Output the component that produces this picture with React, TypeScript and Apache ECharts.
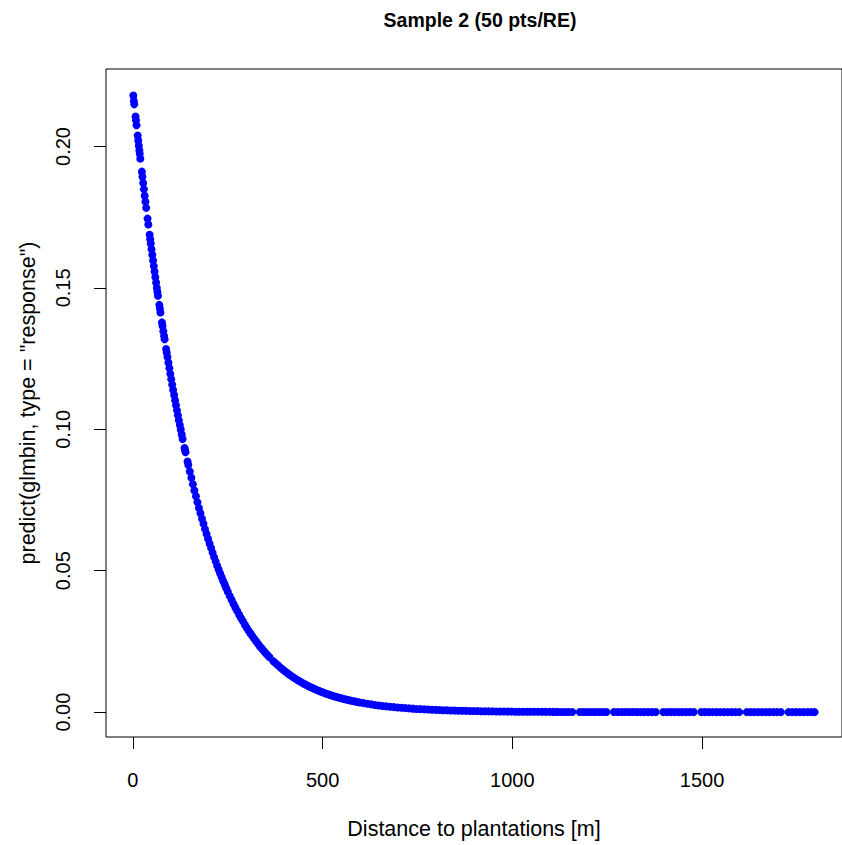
import React, { useEffect, useRef } from "react";
import * as echarts from "echarts";

// Distance to plantations [m] and predicted response
const distTop = [1, 2.5, 3.5, 7, 8, 9.5, 12.5, 14, 15.5, 17, 18, 19.5, 23.5, 25, 27, 29, 31, 33, 35, 38.5, 40.5, 44, 45.5, 47, 49, 51, 53, 55, 57, 59, 61, 63, 64.5, 66, 69.5, 71, 72.5, 76.5, 78, 80, 82, 83.5, 87.5, 89, 91, 93.5, 96, 98.5, 101, 103.5, 106, 108.5, 111, 113.5, 116, 118.5, 121, 123.5, 126, 128.5, 131, 136, 137, 138.5];
const probTop = [0.2180, 0.2161, 0.2149, 0.2106, 0.2093, 0.2075, 0.2039, 0.2021, 0.2003, 0.1986, 0.1974, 0.1957, 0.1911, 0.1893, 0.1871, 0.1849, 0.1826, 0.1805, 0.1783, 0.1745, 0.1724, 0.1688, 0.1672, 0.1657, 0.1637, 0.1617, 0.1597, 0.1577, 0.1558, 0.1538, 0.1519, 0.1500, 0.1486, 0.1472, 0.1440, 0.1427, 0.1413, 0.1378, 0.1365, 0.1347, 0.1330, 0.1318, 0.1284, 0.1272, 0.1256, 0.1236, 0.1216, 0.1196, 0.1177, 0.1158, 0.1139, 0.1121, 0.1103, 0.1085, 0.1067, 0.1050, 0.1032, 0.1015, 0.0999, 0.0982, 0.0966, 0.0934, 0.0928, 0.0919];

const distMid1 = [144, 146, 150, 154, 158, 162, 166, 170, 174, 178, 182, 186, 190, 194, 198, 202, 206, 210, 214, 218, 222, 226, 230, 234, 238, 242, 246, 250];
const probMid1 = [0.0886, 0.0874, 0.0851, 0.0829, 0.0806, 0.0784, 0.0763, 0.0742, 0.0722, 0.0703, 0.0684, 0.0666, 0.0647, 0.0630, 0.0613, 0.0596, 0.0580, 0.0564, 0.0548, 0.0533, 0.0518, 0.0504, 0.0490, 0.0477, 0.0463, 0.0451, 0.0438, 0.0426];

const distMid2 = [255, 260, 265, 270, 275, 280, 285, 290, 295, 300, 305, 310, 315, 320, 325, 330, 335, 340, 345, 350, 355, 360];
const probMid2 = [0.0411, 0.0397, 0.0383, 0.0370, 0.0357, 0.0344, 0.0332, 0.0321, 0.0309, 0.0298, 0.0288, 0.0278, 0.0268, 0.0259, 0.0250, 0.0241, 0.0232, 0.0224, 0.0216, 0.0208, 0.0201, 0.0194];

const distMid3 = [370, 376, 382, 388, 394, 400, 406, 412, 418, 424, 430, 436, 442, 448, 454, 460, 466, 472, 478, 484, 490, 496, 502, 508, 514, 520, 526, 532, 538, 544, 550, 556, 562, 568, 574, 580, 586, 592, 598];
const probMid3 = [0.0180, 0.01727, 0.01654, 0.01583, 0.01516, 0.01451, 0.01389, 0.01330, 0.01273, 0.01219, 0.01167, 0.01117, 0.01069, 0.01023, 0.00980, 0.00938, 0.00897, 0.00859, 0.00822, 0.00787, 0.00753, 0.00721, 0.00690, 0.00660, 0.00632, 0.00605, 0.00579, 0.00554, 0.00530, 0.00507, 0.00485, 0.00464, 0.00444, 0.00425, 0.00407, 0.00389, 0.00373, 0.00356, 0.00341];

const distMid4 = [608, 618, 628, 638, 648, 658, 668, 678, 688, 698, 708, 718, 728, 738, 748, 758, 768, 778, 788, 798, 808, 818, 828, 838, 848, 858, 868, 878, 888, 898];
const probMid4 = [0.00317, 0.00294, 0.00274, 0.00254, 0.00236, 0.00219, 0.00204, 0.00190, 0.00176, 0.00164, 0.00152, 0.00141, 0.00131, 0.00122, 0.00113, 0.00105, 0.00098, 0.00091, 0.00084, 0.00078, 0.00073, 0.00068, 0.00063, 0.00058, 0.00054, 0.00050, 0.00047, 0.00043, 0.00040, 0.00037];

const distTail = [908, 918, 928, 938, 948, 958, 968, 978, 988, 998, 1008, 1018, 1028, 1038, 1048, 1058, 1068, 1078, 1088, 1098, 1108, 1118, 1128, 1138, 1148, 1158, 1178, 1188, 1198, 1208, 1218, 1228, 1238, 1248, 1268, 1278, 1288, 1298, 1308, 1318, 1328, 1338, 1348, 1358, 1368, 1378, 1398, 1408, 1418, 1428, 1438, 1448, 1458, 1468, 1478, 1498, 1508, 1518, 1528, 1538, 1548, 1558, 1568, 1578, 1588, 1598, 1618, 1628, 1638, 1648, 1658, 1668, 1678, 1688, 1698, 1708, 1728, 1738, 1748, 1758, 1768, 1778, 1788, 1797];
const probTail = [0.00034, 0.00032, 0.00029, 0.00027, 0.00025, 0.00023, 0.00021, 0.00019, 0.00018, 0.00017, 0.00015, 0.00014, 0.00013, 0.00012, 0.00011, 0.00010, 0.00010, 0.00009, 0.00008, 0.00008, 0.00007, 0.00007, 0.00006, 0.00006, 0.00005, 0.00005, 0.00004, 0.00004, 0.00004, 0.00003, 0.00003, 0.00003, 0.00003, 0.00002, 0.00002, 0.00002, 0.00002, 0.00002, 0.00002, 0.00002, 0.00001, 0.00001, 0.00001, 0.00001, 0.00001, 0.00001, 0.00001, 0.00001, 0.00001, 0.00001, 0.00001, 0.00001, 0.00001, 0.00001, 0.00001, 0.00001, 0.00001, 0, 0, 0, 0, 0, 0, 0, 0, 0, 0, 0, 0, 0, 0, 0, 0, 0, 0, 0, 0, 0, 0, 0, 0, 0, 0, 0];

const xTicks = [0, 500, 1000, 1500];
const yTicks = [0, 0.05, 0.1, 0.15, 0.2];

const titleText = "Sample 2 (50 pts/RE)";
const xTitle = "Distance to plantations [m]";
const yTitle = 'predict(glmbin, type = "response")';

const FONT = "'Liberation Sans', Arial, Helvetica, sans-serif";

function pairs(d: number[], p: number[]) {
  const n = Math.min(d.length, p.length);
  const out: number[][] = [];
  for (let i = 0; i < n; i++) out.push([d[i], p[i]]);
  return out;
}

export default function App() {
  const ref = useRef<HTMLDivElement>(null);
  useEffect(() => {
    if (!ref.current) return;
    const chart = echarts.init(ref.current, undefined, { renderer: "svg" });
    const data = [
      ...pairs(distTop, probTop),
      ...pairs(distMid1, probMid1),
      ...pairs(distMid2, probMid2),
      ...pairs(distMid3, probMid3),
      ...pairs(distMid4, probMid4),
      ...pairs(distTail, probTail),
    ];
    chart.setOption({
      animation: false,
      backgroundColor: "#ffffff",
      grid: {
        left: 106,
        top: 69,
        right: -12,
        bottom: 105,
        show: true,
        borderColor: "#000000",
        borderWidth: 1,
        backgroundColor: "transparent",
      },
      graphic: [
        {
          type: "text",
          x: 480,
          y: 20,
          style: {
            text: titleText,
            textAlign: "center",
            textVerticalAlign: "middle",
            font: `bold 19.5px ${FONT}`,
            fill: "#000",
          },
        },
      ],
      xAxis: {
        type: "value",
        min: -71,
        max: 1869,
        name: xTitle,
        nameLocation: "middle",
        nameGap: 81,
        nameTextStyle: { fontFamily: FONT, fontSize: 21.5, color: "#000" },
        axisLine: { show: false, onZero: false },
        splitLine: { show: false },
        axisTick: {
          show: true,
          length: 12,
          inside: false,
          lineStyle: { color: "#000", width: 1 },
          customValues: xTicks,
        },
        axisLabel: {
          show: true,
          margin: 33,
          fontFamily: FONT,
          fontSize: 20,
          color: "#000",
          customValues: xTicks,
          formatter: (v: number) => String(v),
        },
      },
      yAxis: {
        type: "value",
        min: -0.0088,
        max: 0.2274,
        name: yTitle,
        nameLocation: "middle",
        nameGap: 67,
        nameRotate: 90,
        nameTextStyle: { fontFamily: FONT, fontSize: 21.5, color: "#000" },
        axisLine: { show: false, onZero: false },
        splitLine: { show: false },
        axisTick: {
          show: true,
          length: 12,
          inside: false,
          lineStyle: { color: "#000", width: 1 },
          customValues: yTicks,
        },
        axisLabel: {
          show: true,
          rotate: 90,
          margin: 33,
          fontFamily: FONT,
          fontSize: 20,
          color: "#000",
          customValues: yTicks,
          formatter: (v: number) => v.toFixed(2),
        },
      },
      series: [
        {
          type: "scatter",
          data,
          symbol: "circle",
          symbolSize: 8,
          itemStyle: { color: "#0000ff", opacity: 1 },
          emphasis: { disabled: true },
        },
      ],
    });
    return () => chart.dispose();
  }, []);
  return (
    <div
      ref={ref}
      style={{ position: "absolute", left: 0, top: 0, width: 842, height: 845 }}
    />
  );
}
